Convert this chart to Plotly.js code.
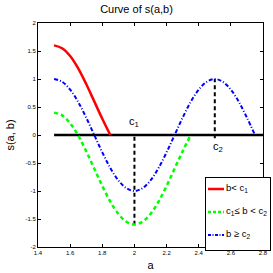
<!DOCTYPE html>
<html><head><meta charset="utf-8">
<script src="https://cdn.plot.ly/plotly-3.0.1.min.js"></script>
<style>html,body{margin:0;padding:0;background:#fff;overflow:hidden}</style>
</head><body>
<div id="chart" style="width:273px;height:273px"></div>
<script>
const aBlue = [1.5,1.55,1.6,1.65,1.7,1.75,1.8,1.85,1.9,1.95,2.0,2.05,2.1,2.15,2.2,2.25,2.3,2.35,2.4,2.45,2.5,2.55,2.6,2.65,2.7,2.75];
const sBlue = [1.0,0.95,0.81,0.59,0.31,0,-0.31,-0.59,-0.81,-0.95,-1.0,-0.95,-0.81,-0.59,-0.31,0,0.31,0.59,0.81,0.95,1.0,0.95,0.81,0.59,0.31,0];
const aGreen = [1.5,1.55,1.6,1.65,1.7,1.75,1.8,1.85,1.9,1.95,2.0,2.05,2.1,2.15,2.2,2.25,2.3,2.35];
const sGreen = [0.4,0.35,0.21,-0.01,-0.29,-0.6,-0.91,-1.19,-1.41,-1.55,-1.6,-1.55,-1.41,-1.19,-0.91,-0.6,-0.29,0];
const aRed = [1.5,1.55,1.6,1.65,1.7,1.75,1.8,1.85];
const sRed = [1.6,1.55,1.41,1.19,0.91,0.6,0.29,0];
const zeroLineA = [1.5,2.8];
const zeroLineS = [0,0];
const c1A = [2.0,2.0];
const c1S = [-0.03,-1.6];
const c2A = [2.5,2.5];
const c2S = [-0.06,1.0];
const legendNames = ['b&lt; c<sub>1</sub>','c<sub>1</sub>≤ b &lt; c<sub>2</sub>','b ≥ c<sub>2</sub>'];
const xTicks = [1.4,1.6,1.8,2.0,2.2,2.4,2.6,2.8];
const xTickText = ['1.4','1.6','1.8','2','2.2','2.4','2.6','2.8'];
const yTicks = [-2,-1.5,-1,-0.5,0,0.5,1,1.5,2];
const yTickText = ['-2','-1.5','-1','-0.5','0','0.5','1','1.5','2'];

const colors = ['#ff0000','#00ff00','#0000ff'];
const dashes = ['solid','3px,2px','3px,1.5px,1px,1.5px'];
const widths = [2.5,2.5,2];

const traces = [
  {x: zeroLineA, y: zeroLineS, mode:'lines', line:{color:'#000', width:2.5}, showlegend:false},
  {x: c1A, y: c1S, mode:'lines', line:{color:'#000', width:2, dash:'4px,3px'}, showlegend:false},
  {x: c2A, y: c2S, mode:'lines', line:{color:'#000', width:2, dash:'4px,3px'}, showlegend:false},
  {x: aRed, y: sRed, mode:'lines', name: legendNames[0], showlegend:false, line:{color:colors[0], width:2.5, shape:'spline'}},
  {x: aGreen, y: sGreen, mode:'lines', name: legendNames[1], showlegend:false, line:{color:colors[1], width:2.5, dash:'4px,3px', shape:'spline'}},
  {x: aBlue, y: sBlue, mode:'lines', name: legendNames[2], showlegend:false, line:{color:colors[2], width:2, dash:'4px,2px,1px,2px', shape:'spline'}}
];

// manual legend (paper coords; plot area 38..263 x 23..247 px)
const px = v => (v - 38) / 225;
const py = v => (247 - v) / 224;
const legendRows = [189, 212, 235];
const boxL = 205, boxR = 270, boxT = 177, boxB = 250;
const shapes = [
  {type:'rect', xref:'paper', yref:'paper', x0:px(boxL), x1:px(boxR), y0:py(boxB), y1:py(boxT),
   line:{width:0}, fillcolor:'#fff', layer:'above'}
];
const annotations = [
  {x:px((boxL + boxR) / 2), y:py((boxT + boxB) / 2), xref:'paper', yref:'paper', xanchor:'center', yanchor:'middle',
   text:' ', showarrow:false, width:boxR - boxL - 1, height:boxB - boxT - 1, borderpad:0,
   bordercolor:'#000', borderwidth:1, bgcolor:'rgba(0,0,0,0)'},
  {x:2.0, y:0.07, xref:'x', yref:'y', text:'c<sub>1</sub>', showarrow:false, yanchor:'bottom', font:{size:11}},
  {x:2.52, y:-0.05, xref:'x', yref:'y', text:'c<sub>2</sub>', showarrow:false, yanchor:'top', font:{size:11}}
];
legendRows.forEach((ry, i) => {
  shapes.push({type:'line', xref:'paper', yref:'paper', x0:px(208), x1:px(224), y0:py(ry), y1:py(ry),
    line:{color:colors[i], width:widths[i], dash:dashes[i]}, layer:'above'});
  annotations.push({x:px(224), y:py(ry - 1), xref:'paper', yref:'paper', xanchor:'left', yanchor:'middle',
    text:legendNames[i], showarrow:false, font:{size:9.5}});
});

const layout = {
  width:273, height:273,
  margin:{l:38, r:10, t:23, b:26},
  paper_bgcolor:'#fff', plot_bgcolor:'#fff',
  font:{family:'Liberation Sans, Arial, sans-serif', color:'#000'},
  showlegend:false,
  title:{text:'Curve of s(a,b)', font:{size:11}, x:0.5, xanchor:'center', y:0.965, yanchor:'middle'},
  xaxis:{range:[1.4,2.8], tickvals:xTicks, ticktext:xTickText, ticks:'inside', ticklen:3, tickwidth:1, tickcolor:'#000',
    showline:true, mirror:'ticks', linecolor:'#000', linewidth:1, showgrid:false, zeroline:false,
    tickfont:{size:6}, title:{text:'a', font:{size:11}, standoff:6}},
  yaxis:{range:[-2,2], tickvals:yTicks, ticktext:yTickText, ticks:'inside', ticklen:3, tickwidth:1, tickcolor:'#000',
    showline:true, mirror:'ticks', linecolor:'#000', linewidth:1, showgrid:false, zeroline:false,
    tickfont:{size:6}, title:{text:'s(a, b)', font:{size:11}, standoff:8}},
  shapes: shapes,
  annotations: annotations
};
Plotly.newPlot('chart', traces, layout, {staticPlot:true, displayModeBar:false});
</script>
</body></html>
